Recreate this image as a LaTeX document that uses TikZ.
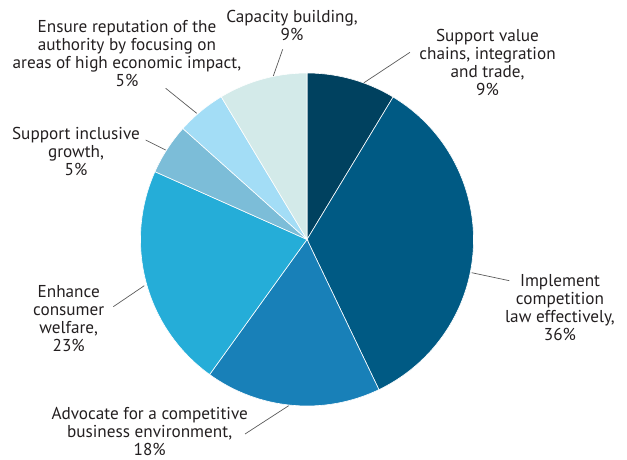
\documentclass[tikz,border=0pt]{standalone}
\usepackage{fontspec}
\setmainfont{PT Sans}
\definecolor{cA}{HTML}{00415F}
\definecolor{cB}{HTML}{005A84}
\definecolor{cC}{HTML}{1880B8}
\definecolor{cD}{HTML}{25ADD8}
\definecolor{cE}{HTML}{7CBDD8}
\definecolor{cF}{HTML}{A3DDF6}
\definecolor{cG}{HTML}{D3EAE9}
\definecolor{txt}{HTML}{231F20}
\definecolor{lead}{HTML}{5A5A5A}
\begin{document}
\begin{tikzpicture}[x=1pt,y=1pt,
  slice/.style={draw=white,line width=0.6pt},
  lbl/.style={align=center,inner sep=0pt,text=txt,font=\fontsize{17.2}{18}\selectfont},
  leader/.style={draw=lead,line width=0.7pt}]
\useasboundingbox (0,0) rectangle (627,460);
\coordinate (c) at (307,220.5);
\def\R{166.5}
\fill[cA,slice] (c) -- ++(90:\R) arc (90:58.85:\R) -- cycle;
\fill[cB,slice] (c) -- ++(58.85:\R) arc (58.85:-64.4:\R) -- cycle;
\fill[cC,slice] (c) -- ++(-64.4:\R) arc (-64.4:-125.8:\R) -- cycle;
\fill[cD,slice] (c) -- ++(-125.8:\R) arc (-125.8:-204.04:\R) -- cycle;
\fill[cE,slice] (c) -- ++(-204.04:\R) arc (-204.04:-221.8:\R) -- cycle;
\fill[cF,slice] (c) -- ++(-221.8:\R) arc (-221.8:-239:\R) -- cycle;
\fill[cG,slice] (c) -- ++(-239:\R) arc (-239:-270:\R) -- cycle;

\node[lbl] (cap) at (292,435) {Capacity building,\\9\%};
\node[lbl] (ens) at (127,406) {Ensure reputation of the\\authority by focusing on\\areas of high economic impact,\\5\%};
\node[lbl] (inc) at (76,308.3) {Support inclusive\\growth,\\5\%};
\node[lbl] (val) at (487.5,397.5) {Support value\\chains, integration\\and trade,\\9\%};
\node[lbl] (imp) at (560,152.5) {Implement\\competition\\law effectively,\\36\%};
\node[lbl] (enh) at (68.7,141.7) {Enhance\\consumer\\welfare,\\23\%};
\node[lbl] (adv) at (149.7,29) {Advocate for a competitive\\business environment,\\18\%};

\coordinate (capA) at (273.3,384);   \coordinate (capB) at (282.7,410.7);
\coordinate (ensA) at (196.7,346.7); \coordinate (ensB) at (165.7,371.7);
\coordinate (incA) at (165.7,310);   \coordinate (incB) at (145.7,320);
\coordinate (valA) at (364,377.3);   \coordinate (valB) at (410,407.7);
\coordinate (impA) at (471.7,187.3); \coordinate (impB) at (509.3,179.3);
\coordinate (advA) at (288.7,54.3);  \coordinate (advB) at (245,26);
\coordinate (enhA) at (144.3,174.3); \coordinate (enhB) at (113.3,153.3);
\draw[leader] (capA) -- (capB);
\draw[leader] (ensA) -- (ensB);
\draw[leader] (incA) -- (incB);
\draw[leader] (valA) -- (valB);
\draw[leader] (impA) -- (impB);
\draw[leader] (advA) -- (advB);
\draw[leader] (enhA) -- (enhB);
\end{tikzpicture}
\end{document}
